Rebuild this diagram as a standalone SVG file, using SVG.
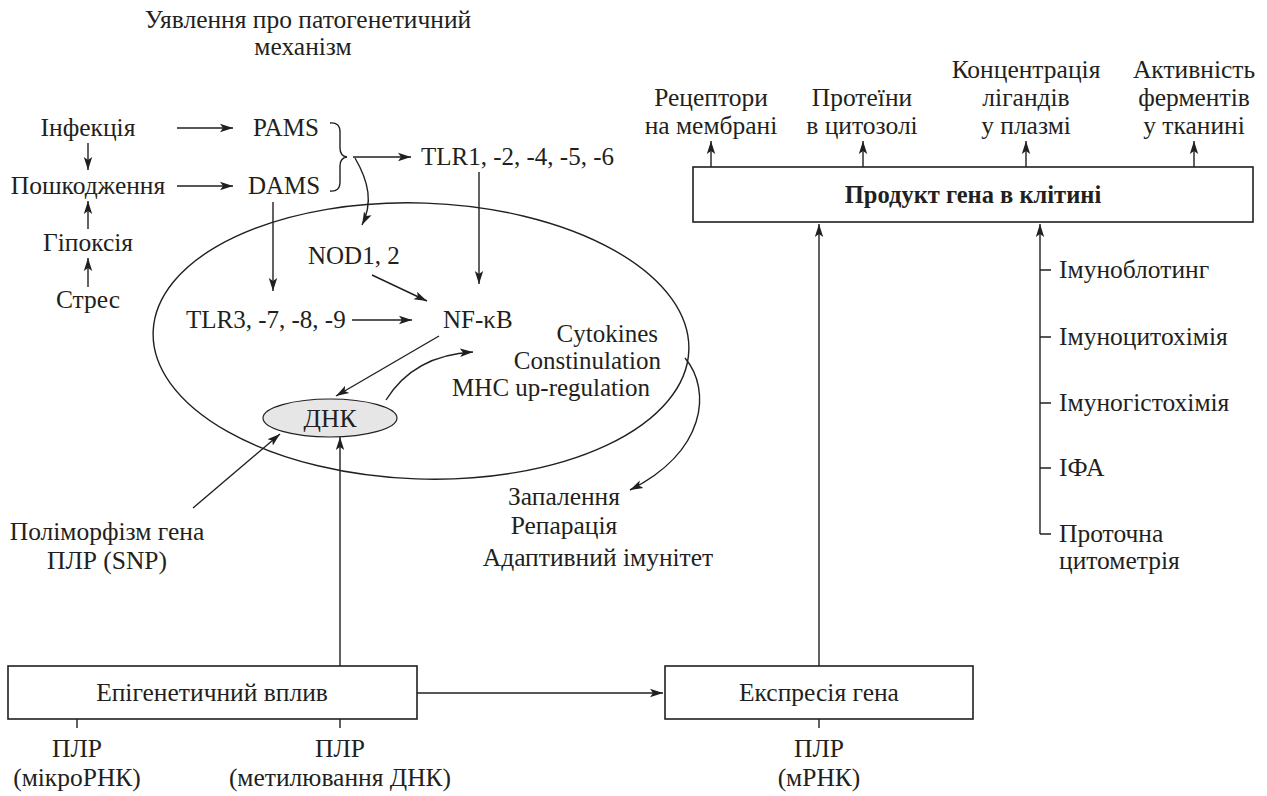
<svg xmlns="http://www.w3.org/2000/svg" width="1267" height="796" viewBox="0 0 1267 796">
<defs>
<marker id="ah" markerUnits="userSpaceOnUse" markerWidth="14" markerHeight="10" refX="13" refY="5" orient="auto">
<path d="M0,0.8 L13,5 L0,9.2 L3,5 Z" fill="#231f20"/>
</marker>
<style>
text{font-family:"Liberation Serif","DejaVu Serif",serif;font-size:25.5px;fill:#231f20}
.lat{font-size:25px}
.m{text-anchor:middle}
.b{font-weight:bold;font-size:24.5px}
.ln{fill:none;stroke:#231f20;stroke-width:1.4}
.ar{fill:none;stroke:#231f20;stroke-width:1.4;marker-end:url(#ah)}
.box{fill:#fff;stroke:#231f20;stroke-width:1.6}
</style>
</defs>
<rect width="1267" height="796" fill="#fff"/>

<g id="title">
<text class="m" x="308" y="28">Уявлення про патогенетичний</text>
<text class="m" x="303" y="55">механізм</text>
</g>

<g id="cell">
<ellipse cx="421" cy="341" rx="268" ry="138" transform="rotate(2 421 341)" class="ln"/>
</g>

<g id="connectors">
<path class="ar" d="M88,143 L88,170"/>
<path class="ar" d="M88,229 L88,201"/>
<path class="ar" d="M88,287 L88,258"/>
<path class="ar" d="M177,128 L233,128"/>
<path class="ar" d="M177,186 L233,186"/>
<path class="ln" d="M330,123 Q340,122 340,132 L340,148 Q340,156 347,157 Q340,158 340,166 L340,182 Q340,192 330,191"/>
<path class="ar" d="M353,157 L411,157"/>
<path class="ar" d="M355,158 C369,182 373,203 362,225"/>
<path class="ar" d="M273,202 L273,291"/>
<path class="ar" d="M479,172 L479,284"/>
<path class="ar" d="M372,275 L427,301"/>
<path class="ar" d="M352,320 L412,320"/>
<path class="ar" d="M439,336 L336,396"/>
<path class="ar" d="M386,400 C406,368 436,354 473,352"/>
<path class="ar" d="M193,508 L280,434"/>
<path class="ar" d="M340,666 L340,437"/>
<path class="ar" d="M685,358 C712,390 706,452 630,490"/>
<path class="ar" d="M417,693 L663,693"/>
<path class="ar" d="M819,666 L819,224"/>
<path class="ar" d="M711,167 L711,141"/>
<path class="ar" d="M863,167 L863,141"/>
<path class="ar" d="M1026,167 L1026,141"/>
<path class="ar" d="M1194,167 L1194,141"/>
<path class="ar" d="M1040,534 L1040,224"/>
<path class="ln" d="M1040,534 L1051,534 M1040,270 L1051,270 M1040,337 L1051,337 M1040,403 L1051,403 M1040,468 L1051,468"/>
<path class="ln" d="M77,719 L77,728 M340,719 L340,728 M819,719 L819,728"/>
</g>

<g id="n-infekcia"><text class="m" x="88" y="136">Інфекція</text></g>
<g id="n-poshkodzhennia"><text class="m" x="88" y="194">Пошкодження</text></g>
<g id="n-hipoksia"><text class="m" x="88" y="251">Гіпоксія</text></g>
<g id="n-stres"><text class="m" x="88" y="308">Стрес</text></g>
<g id="n-pams"><text class="lat" x="253" y="136">PAMS</text></g>
<g id="n-dams"><text class="lat" x="248" y="194">DAMS</text></g>
<g id="n-tlr1"><text class="lat" x="421" y="165">TLR1, -2, -4, -5, -6</text></g>
<g id="n-nod"><text class="lat" x="308" y="264">NOD1, 2</text></g>
<g id="n-tlr3"><text class="lat" x="186" y="328">TLR3, -7, -8, -9</text></g>
<g id="n-nfkb"><text class="lat" x="443" y="328">NF-κB</text></g>
<g id="n-cytokines">
<text class="lat" x="658" y="342" text-anchor="end">Cytokines</text>
<text class="lat" x="661" y="369" text-anchor="end">Constinulation</text>
<text class="lat" x="650" y="396" text-anchor="end">MHC up-regulation</text>
</g>
<g id="n-dnk">
<ellipse cx="330" cy="418" rx="67" ry="19" fill="#e6e6e6" stroke="#231f20" stroke-width="1.2"/>
<text class="m" x="330" y="427">ДНК</text>
</g>
<g id="n-polimorfizm">
<text class="m" x="107" y="540">Поліморфізм гена</text>
<text class="m" x="107" y="569">ПЛР (SNP)</text>
</g>
<g id="n-outcomes">
<text class="m" x="564" y="505">Запалення</text>
<text class="m" x="564" y="534">Репарація</text>
<text class="m" x="598" y="566">Адаптивний імунітет</text>
</g>
<g id="n-epigenetic">
<rect class="box" x="8" y="666" width="409" height="53"/>
<text class="m" x="212" y="701">Епігенетичний вплив</text>
</g>
<g id="n-expression">
<rect class="box" x="665" y="666" width="308" height="53"/>
<text class="m" x="819" y="701">Експресія гена</text>
</g>
<g id="n-plr-mirna">
<text class="m" x="77" y="757">ПЛР</text>
<text class="m" x="77" y="786">(мікроРНК)</text>
</g>
<g id="n-plr-meth">
<text class="m" x="340" y="757">ПЛР</text>
<text class="m" x="340" y="786">(метилювання ДНК)</text>
</g>
<g id="n-plr-mrna">
<text class="m" x="819" y="757">ПЛР</text>
<text class="m" x="819" y="786">(мРНК)</text>
</g>
<g id="n-product">
<rect class="box" x="693" y="167" width="560" height="55"/>
<text class="m b" x="973" y="203">Продукт гена в клітині</text>
</g>
<g id="n-receptors">
<text class="m" x="711" y="106">Рецептори</text>
<text class="m" x="711" y="134">на мембрані</text>
</g>
<g id="n-proteins">
<text class="m" x="862" y="106">Протеїни</text>
<text class="m" x="862" y="134">в цитозолі</text>
</g>
<g id="n-ligands">
<text class="m" x="1026" y="78">Концентрація</text>
<text class="m" x="1026" y="106">лігандів</text>
<text class="m" x="1026" y="134">у плазмі</text>
</g>
<g id="n-enzymes">
<text class="m" x="1194" y="78">Активність</text>
<text class="m" x="1194" y="106">ферментів</text>
<text class="m" x="1194" y="134">у тканині</text>
</g>
<g id="n-methods">
<text x="1059" y="278">Імуноблотинг</text>
<text x="1059" y="345">Імуноцитохімія</text>
<text x="1059" y="411">Імуногістохімія</text>
<text x="1059" y="476">ІФА</text>
<text x="1059" y="542">Проточна</text>
<text x="1059" y="569">цитометрія</text>
</g>
</svg>
